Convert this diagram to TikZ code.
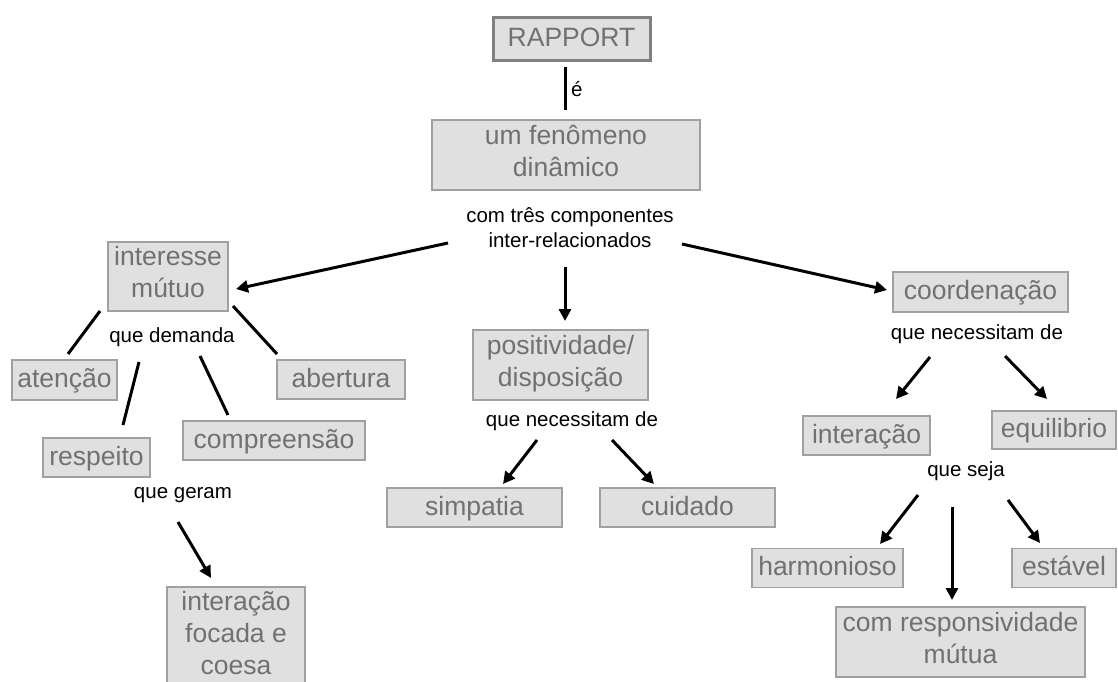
\documentclass[tikz,border=0pt]{standalone}
\usepackage{fontspec}
\setmainfont{Liberation Sans}
\usetikzlibrary{arrows.meta}
\definecolor{boxfill}{HTML}{E0E0E0}
\definecolor{boxline}{HTML}{A0A0A0}
\definecolor{boxtext}{HTML}{717171}
\newcommand{\boxfnt}{\fontsize{26.5}{32}\selectfont}
\newcommand{\lblfnt}{\fontsize{20.5}{25}\selectfont}
\newcommand{\bstrut}{\rule[-8.5pt]{0pt}{32pt}}
\tikzset{
  cbox/.style={draw=boxline, fill=boxfill, line width=1.3pt, text=boxtext, font=\boxfnt, align=center, inner sep=0pt,
    execute at begin node=\bstrut, execute at end node=\bstrut},
  lbl/.style={font=\lblfnt, align=center, inner sep=0pt, text=black},
  arr/.style={line width=3pt, -{Triangle[length=12pt,width=12pt]}},
  ln/.style={line width=3pt},
}
\begin{document}
\begin{tikzpicture}[x=1pt,y=-1pt]
\useasboundingbox (0,0) rectangle (1118,682);
\clip (0,0) rectangle (1118,682);
% boxes
\node[cbox, draw=boxline!80!black, line width=3pt, minimum width=157pt, minimum height=43pt] (rap) at (571.5,39.5) {RAPPORT};
\node[cbox, minimum width=268pt, minimum height=70pt] (fen) at (566,155) {um fenômeno\\dinâmico};
\node[lbl] (comp) at (570,228) {com três componentes\\inter-relacionados};
\node[cbox, minimum width=120pt, minimum height=69pt] (int) at (168,276.5) {interesse\\mútuo};
\node[lbl] (dem) at (172,337) {que demanda};
\node[cbox, minimum width=105pt, minimum height=40pt] (ate) at (64.5,380) {atenção};
\node[cbox, minimum width=128pt, minimum height=39pt] (abe) at (341,379.5) {abertura};
\node[cbox, minimum width=107pt, minimum height=39pt] (res) at (96.5,457.5) {respeito};
\node[cbox, minimum width=182pt, minimum height=39pt] (cpr) at (274,440.5) {compreensão};
\node[lbl] (ger) at (183,495) {que geram};
\node[cbox, minimum width=138pt, minimum height=100pt] (foc) at (236,637) {interação\\focada e\\coesa};
\node[cbox, minimum width=175pt, minimum height=70pt] (pos) at (560.5,365) {positividade/\\disposição};
\node[lbl] (nec1) at (572,421) {que necessitam de};
\node[cbox, minimum width=175pt, minimum height=39pt] (sim) at (474.5,507.5) {simpatia};
\node[cbox, minimum width=175pt, minimum height=39pt] (cui) at (687.5,507.5) {cuidado};
\node[cbox, minimum width=175pt, minimum height=40pt] (coo) at (980.5,292) {coordenação};
\node[lbl] (nec2) at (977,334) {que necessitam de};
\node[cbox, minimum width=127pt, minimum height=39pt] (inr) at (866.5,435.5) {interação};
\node[cbox, minimum width=124pt, minimum height=38pt] (equ) at (1054,430) {equilibrio};
\node[lbl] (sej) at (966,471) {que seja};
\node[cbox, minimum width=151pt, minimum height=39pt] (har) at (827.5,568) {harmonioso};
\node[cbox, minimum width=104pt, minimum height=39pt] (est) at (1064,568) {estável};
\node[cbox, minimum width=249pt, minimum height=70pt] (rsp) at (960.5,642) {com responsividade\\mútua};
% connector ends
\coordinate (e1) at (565,67); \coordinate (e2) at (565,110);
\node[lbl, anchor=west] (eacc) at (571,89) {é};
\coordinate (a1) at (448,243); \coordinate (a2) at (236,289);
\coordinate (b1) at (565,267); \coordinate (b2) at (565,321);
\coordinate (c1) at (682,244); \coordinate (c2) at (887,290);
\coordinate (l1a) at (100,311); \coordinate (l1b) at (68,354);
\coordinate (l2a) at (139,362); \coordinate (l2b) at (123,425);
\coordinate (l3a) at (200,356); \coordinate (l3b) at (228,415);
\coordinate (l4a) at (233,306); \coordinate (l4b) at (277,354);
\coordinate (g1) at (178,522); \coordinate (g2) at (211,578);
\coordinate (m1a) at (537,440); \coordinate (m1b) at (503,484);
\coordinate (m2a) at (612,440); \coordinate (m2b) at (654,484);
\coordinate (r1a) at (930,357); \coordinate (r1b) at (896,399);
\coordinate (r2a) at (1005,356); \coordinate (r2b) at (1047,399);
\coordinate (s1a) at (918,495); \coordinate (s1b) at (880,544);
\coordinate (s2a) at (952,507); \coordinate (s2b) at (952,600);
\coordinate (s3a) at (1008,500); \coordinate (s3b) at (1040,543);
% connectors
\draw[ln] (e1) -- (e2);
\draw[arr] (a1) -- (a2);
\draw[arr] (b1) -- (b2);
\draw[arr] (c1) -- (c2);
\draw[ln] (l1a) -- (l1b);
\draw[ln] (l2a) -- (l2b);
\draw[ln] (l3a) -- (l3b);
\draw[ln] (l4a) -- (l4b);
\draw[arr] (g1) -- (g2);
\draw[arr] (m1a) -- (m1b);
\draw[arr] (m2a) -- (m2b);
\draw[arr] (r1a) -- (r1b);
\draw[arr] (r2a) -- (r2b);
\draw[arr] (s1a) -- (s1b);
\draw[arr] (s2a) -- (s2b);
\draw[arr] (s3a) -- (s3b);
\end{tikzpicture}
\end{document}
